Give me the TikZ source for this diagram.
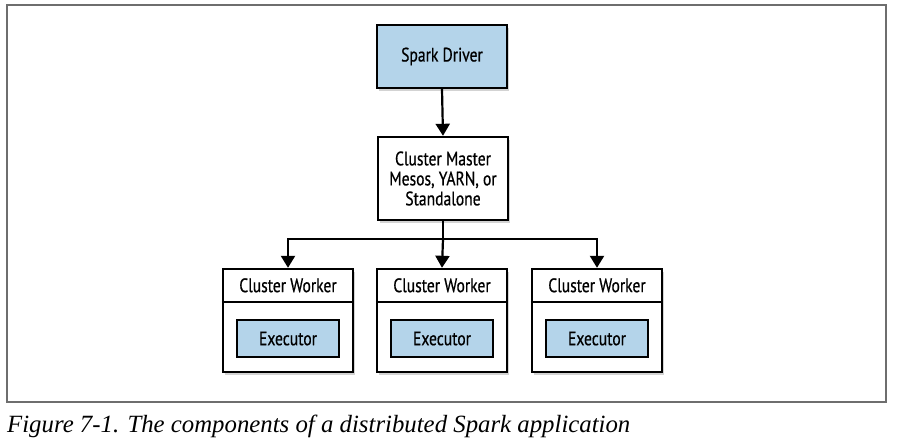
\documentclass[tikz,border=0pt]{standalone}
\usepackage{fontspec}
\setmainfont{Liberation Serif}
\newfontfamily\boxfont[FakeStretch=0.80,FakeBold=0.6]{PT Sans}
\usetikzlibrary{shadows,arrows.meta}
\definecolor{boxblue}{RGB}{180,212,234}
\definecolor{framegray}{RGB}{110,110,110}
\tikzset{
  boxbase/.style={draw=black, line width=2.4pt, fill=white, inner sep=0pt,
    font=\boxfont\fontsize{19.5}{22}\selectfont, align=center,
    drop shadow={shadow xshift=2pt, shadow yshift=-2.5pt, opacity=0.35}},
  bluebox/.style={boxbase, fill=boxblue},
  innerbox/.style={draw=black, line width=2.2pt, fill=boxblue, inner sep=0pt,
    font=\boxfont\fontsize{19.5}{22}\selectfont},
  conn/.style={line width=2.2pt, -{Triangle[length=12pt,width=14pt]}}
}
\begin{document}
\begin{tikzpicture}[x=1pt,y=-1pt]
\useasboundingbox (0,0) rectangle (897,447);
\draw[framegray, line width=1.2pt] (7,5) rectangle (886,402);

% Driver
\node[bluebox, minimum width=130pt, minimum height=63pt] (driver) at (442,56.5) {Spark Driver};
% Master
\node[boxbase, minimum width=130pt, minimum height=83pt] (master) at (443,178.5)
  {Cluster Master\\[-2pt]Mesos, YARN, or\\[-2pt]Standalone};

% Workers
\foreach \n/\cx in {w1/288, w2/442, w3/597}{
  \node[boxbase, minimum width=130pt, minimum height=103pt] (\n) at (\cx,320.5) {};
  \coordinate (\n sepL) at ([yshift=-34pt]\n.north west);
  \coordinate (\n sepR) at ([yshift=-34pt]\n.north east);
  \draw[line width=1.8pt] (\n sepL) -- (\n sepR);
  \node[font=\boxfont\fontsize{19.5}{22}\selectfont] (\n title) at ([yshift=-17.5pt]\n.north) {Cluster Worker};
  \node[innerbox, minimum width=102pt, minimum height=37pt] (\n exec) at ([yshift=-18pt]\n.center) {Executor};
}

\draw[conn] (driver.south) -- (master.north);
\coordinate (split) at (master.south |- 0,239);
\draw[line width=2.2pt] (master.south) -- (split);
\draw[conn] (split) -| (w1.north);
\draw[conn] (split) -| (w3.north);
\draw[conn] (split) -- (w2.north);

\node[anchor=base west, inner sep=0pt, font=\itshape\fontsize{24.8}{28}\selectfont] (caption) at (7,432)
  {Figure 7-1. The components of a distributed Spark application};
\end{tikzpicture}
\end{document}
